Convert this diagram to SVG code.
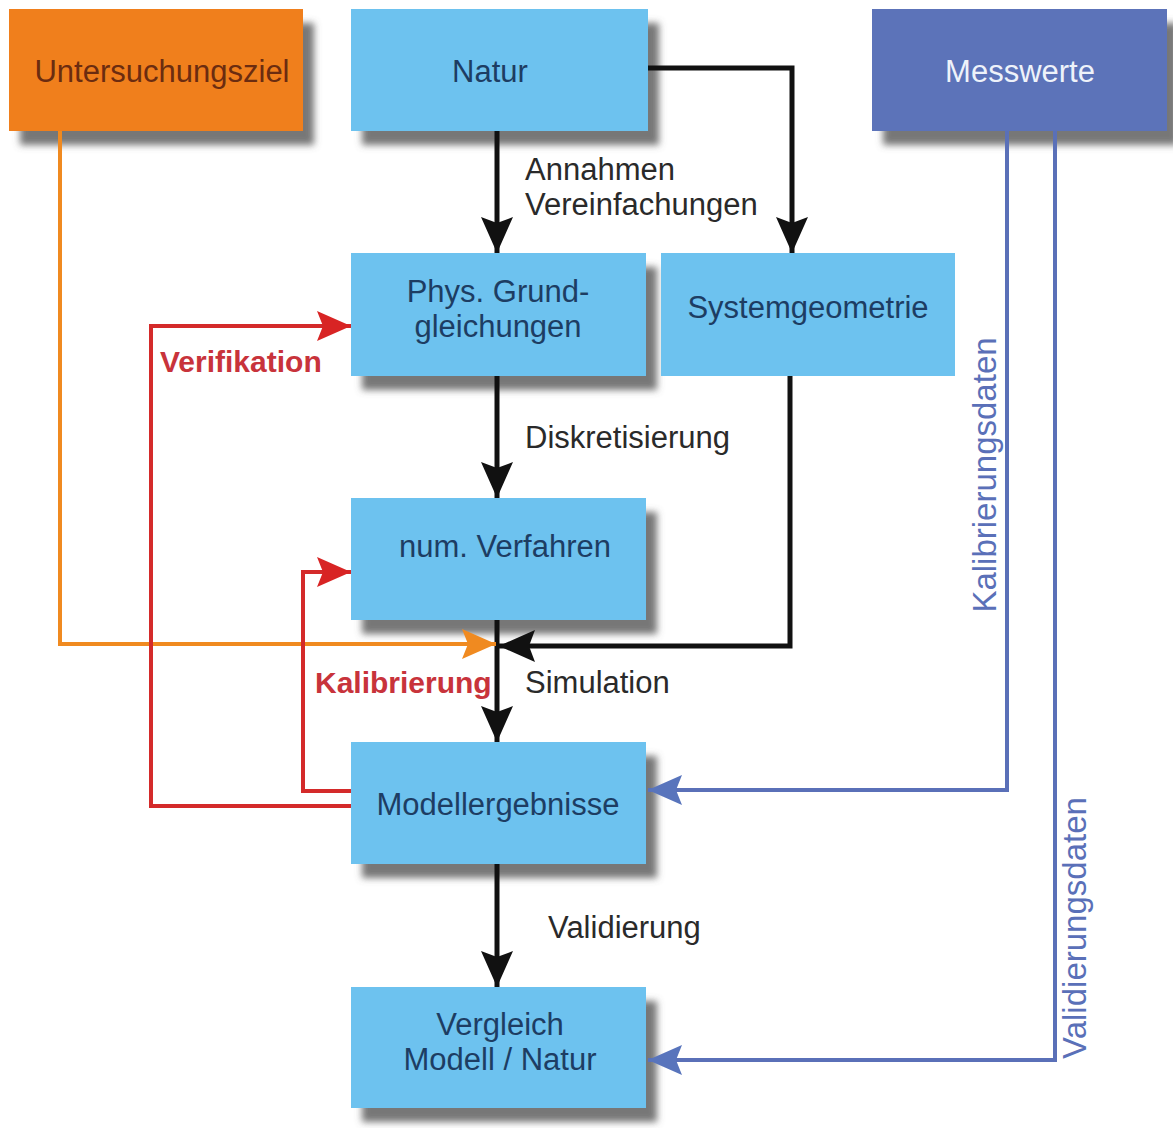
<svg xmlns="http://www.w3.org/2000/svg" width="1173" height="1128" viewBox="0 0 1173 1128">
<defs>
<filter id="sh" x="-10%" y="-20%" width="130%" height="150%">
<feDropShadow dx="11" dy="14" stdDeviation="3.5" flood-color="#5e5e5e" flood-opacity="0.85"/>
</filter>
<marker id="ak" markerUnits="userSpaceOnUse" markerWidth="40" markerHeight="34" refX="36" refY="16" orient="auto"><path d="M0,0 L36,16 L0,32 L6,16 Z" fill="#111"/></marker>
<marker id="ar" markerUnits="userSpaceOnUse" markerWidth="40" markerHeight="34" refX="34" refY="15" orient="auto"><path d="M0,0 L34,15 L0,30 L6,15 Z" fill="#d82424"/></marker>
<marker id="ao" markerUnits="userSpaceOnUse" markerWidth="40" markerHeight="34" refX="34" refY="15" orient="auto"><path d="M0,0 L34,15 L0,30 L6,15 Z" fill="#f08a20"/></marker>
<marker id="ab" markerUnits="userSpaceOnUse" markerWidth="40" markerHeight="34" refX="34" refY="15" orient="auto"><path d="M0,0 L34,15 L0,30 L6,15 Z" fill="#5874bc"/></marker>
</defs>
<style>
text{font-family:"Liberation Sans",Arial,sans-serif;font-size:31px}
.bx{fill:#6dc2ef}
.bt{fill:#1d3d63;text-anchor:middle}
.lbl{fill:#2a2a2a}
.red{fill:#c8333b;font-weight:bold;font-size:30px}
.blu{fill:#5a70b8;font-size:33px}
.k{fill:none;stroke:#111;stroke-width:5}
.r{fill:none;stroke:#d42a2a;stroke-width:4}
.o{fill:none;stroke:#f08a20;stroke-width:4}
.b{fill:none;stroke:#5a70b8;stroke-width:4}
</style>
<rect width="1173" height="1128" fill="#fff"/>
<g id="untersuchungsziel">
<rect x="9" y="9" width="294" height="122" fill="#f07f1c" filter="url(#sh)"/>
<text x="162" y="82" text-anchor="middle" fill="#6b2c10">Untersuchungsziel</text>
</g>
<g id="natur">
<rect class="bx" x="351" y="9" width="297" height="122" filter="url(#sh)"/>
<text class="bt" x="490" y="82">Natur</text>
</g>
<g id="messwerte">
<rect x="872" y="9" width="295" height="122" fill="#5b73b9" filter="url(#sh)"/>
<text x="1020" y="82" text-anchor="middle" fill="#eef2fa">Messwerte</text>
</g>
<g id="phys">
<rect class="bx" x="351" y="253" width="295" height="123" filter="url(#sh)"/>
<text class="bt" x="498" y="302">Phys. Grund-</text>
<text class="bt" x="498" y="337">gleichungen</text>
</g>
<g id="systemgeometrie">
<rect class="bx" x="661" y="253" width="294" height="123"/>
<text class="bt" x="808" y="318">Systemgeometrie</text>
</g>
<g id="numverfahren">
<rect class="bx" x="351" y="498" width="295" height="122" filter="url(#sh)"/>
<text class="bt" x="505" y="557">num. Verfahren</text>
</g>
<g id="modellergebnisse">
<rect class="bx" x="351" y="742" width="295" height="122" filter="url(#sh)"/>
<text class="bt" x="498" y="815">Modellergebnisse</text>
</g>
<g id="vergleich">
<rect class="bx" x="351" y="987" width="295" height="121" filter="url(#sh)"/>
<text class="bt" x="500" y="1035">Vergleich</text>
<text class="bt" x="500" y="1070">Modell / Natur</text>
</g>
<g id="connectors">
<path class="k" d="M497,131 V253" marker-end="url(#ak)"/>
<path class="k" d="M648,68 H792 V253" marker-end="url(#ak)"/>
<path class="k" d="M497,376 V498" marker-end="url(#ak)"/>
<path class="k" d="M497,620 V742" marker-end="url(#ak)"/>
<path class="k" d="M790,376 V646 H499" marker-end="url(#ak)"/>
<path class="k" d="M497,864 V987" marker-end="url(#ak)"/>
<path class="o" d="M60,131 V644 H496" marker-end="url(#ao)"/>
<path class="r" d="M351,806 H151 V326 H351" marker-end="url(#ar)"/>
<path class="r" d="M351,791 H303 V572 H351" marker-end="url(#ar)"/>
<path class="b" d="M1007,131 V790 H648" marker-end="url(#ab)"/>
<path class="b" d="M1055,131 V1060 H648" marker-end="url(#ab)"/>
<text class="lbl" x="525" y="180">Annahmen</text>
<text class="lbl" x="525" y="215">Vereinfachungen</text>
<text class="lbl" x="525" y="448">Diskretisierung</text>
<text class="lbl" x="525" y="693">Simulation</text>
<text class="lbl" x="548" y="938">Validierung</text>
<text class="red" x="160" y="372">Verifikation</text>
<text class="red" x="315" y="693">Kalibrierung</text>
<text class="blu" transform="translate(996,475) rotate(-90)" text-anchor="middle">Kalibrierungsdaten</text>
<text class="blu" transform="translate(1086,928) rotate(-90)" text-anchor="middle">Validierungsdaten</text>
</g>
</svg>
